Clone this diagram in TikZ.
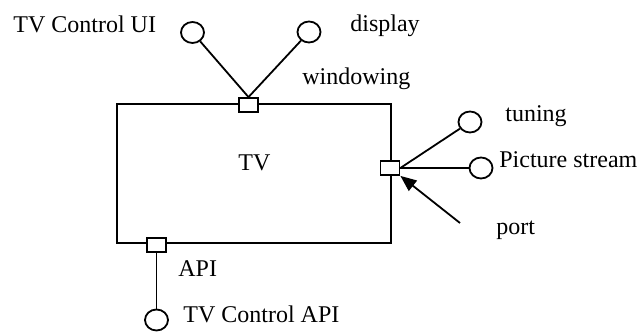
\documentclass[tikz,border=0pt]{standalone}
\usepackage{fontspec}
\setmainfont{Liberation Serif}
\usepackage{tikz}
\usetikzlibrary{arrows.meta, positioning, shapes.geometric}

\begin{document}
\begin{tikzpicture}[
    x=0.5pt, y=-0.5pt,
    component/.style={rectangle, draw=black, line width=0.9pt, minimum width=137pt, minimum height=69.5pt, inner sep=0pt},
    port/.style={rectangle, draw=black, fill=white, line width=0.9pt, minimum width=9.5pt, minimum height=7pt, inner sep=0pt},
    iface/.style={ellipse, draw=black, line width=0.9pt, minimum width=11.5pt, minimum height=10.5pt, inner sep=0pt},
    label/.style={font=\fontsize{12}{14}\selectfont, inner sep=0pt, anchor=base west},
    wire/.style={draw, line width=0.9pt},
]
    \useasboundingbox (0,0) rectangle (638,335);

    % Component
    \node[component] (tv) at (254,173.5) {};
    \node[label] (tvname) at (238,171) {TV};

    % Ports
    \node[port] (winport) at (248.5,105) {};
    \node[port] (rport) at (390,168) {};
    \node[port] (apiport) at (156.5,245) {};

    % Interfaces
    \node[iface] (ui) at (192.5,32.5) {};
    \node[iface] (display) at (309,32) {};
    \node[iface] (tuning) at (470,122) {};
    \node[iface] (picture) at (481,168) {};
    \node[iface] (api) at (156.5,320) {};

    % Wires
    \draw[wire] (winport.north) -- (ui);
    \draw[wire] (winport.north) -- (display);
    \draw[wire] (rport.east) -- (tuning);
    \draw[wire] (rport.east) -- (picture);
    \draw[wire] (apiport.south) -- (api);

    % Labels
    \node[label] (uilabel) at (13,33) {TV Control UI};
    \node[label] (displaylabel) at (350,32) {display};
    \node[label] (winlabel) at (302,85) {windowing};
    \node[label] (tuninglabel) at (505,122) {tuning};
    \node[label] (picturelabel) at (499,168) {Picture stream};
    \node[label] (portlabel) at (496,235) {port};
    \node[label] (apilabel) at (178,277) {API};
    \node[label] (apiiface) at (183,323) {TV Control API};

    % Port pointer
    \coordinate (porttail) at (460,223);
    \draw[wire, -{Triangle[length=8pt, width=6.5pt]}] (porttail) -- (rport.south east);
\end{tikzpicture}
\end{document}
